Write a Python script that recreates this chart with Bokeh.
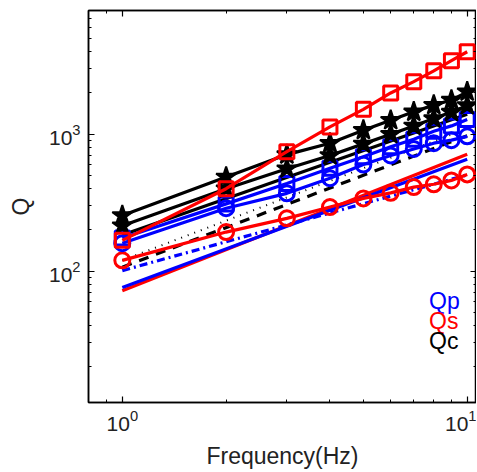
import numpy as np
from bokeh.plotting import figure
from bokeh.models import Range1d, Label, FixedTicker, LogTickFormatter, LogAxis
from bokeh.embed import file_html
from bokeh.resources import INLINE

freq = [1, 2, 3, 4, 5, 6, 7, 8, 9, 10]
qs_square = [168, 400, 745, 1130, 1520, 2000, 2420, 2900, 3440, 4000]
qs_circle = [120, 193, 243, 294, 340, 373, 411, 431, 460, 509]
qp_square = [175, 310, 437, 564, 685, 810, 920, 1050, 1150, 1280]
qp_circle = [160, 288, 370, 477, 600, 700, 780, 860, 905, 965]
qc_star_a = [255, 487, 710, 860, 1070, 1265, 1456, 1630, 1775, 2040]
qc_star_b = [215, 400, 560, 700, 850, 1000, 1150, 1300, 1450, 1620]

fit_freq = [1, 10]
qs_solid = [72, 714]
qp_solid = [76, 656]
qp_dashdot = [101, 505]
qc_solid = [184, 1400]
qc_dashed = [107, 975]
qc_dotted = [120, 1100]

x_major = [1, 10]
x_minor = [0.8, 0.9, 2, 3, 4, 5, 6, 7, 8, 9]
y_major = [100, 1000]
y_minor = [20, 30, 40, 50, 60, 70, 80, 90, 200, 300, 400, 500, 600, 700, 800, 900,
           2000, 3000, 4000, 5000, 6000, 7000, 8000]

legend_names = ["Qp", "Qs", "Qc"]
legend_colors = ["blue", "red", "black"]
legend_x = 7.75
legend_y = [61, 43.5, 31]

FONT = "Liberation Sans"

p = figure(frame_width=388, frame_height=392, x_axis_type="log", y_axis_type="log",
           x_range=Range1d(0.798, 10.64), y_range=Range1d(11, 8000),
           output_backend="svg", toolbar_location=None,
           min_border_left=88, min_border_right=0, min_border_top=10, min_border_bottom=10)
p.grid.visible = False
p.outline_line_color = "black"
p.outline_line_width = 1.5
p.background_fill_color = "white"

bottom_axis = p.below[0]
left_axis = p.left[0]
top_axis = LogAxis()
right_axis = LogAxis()
p.add_layout(top_axis, "above")
p.add_layout(right_axis, "right")

for ax in (bottom_axis, top_axis):
    ax.ticker = FixedTicker(ticks=x_major, minor_ticks=x_minor)
for ax in (left_axis, right_axis):
    ax.ticker = FixedTicker(ticks=y_major, minor_ticks=y_minor)

for ax in (bottom_axis, left_axis, top_axis, right_axis):
    ax.formatter = LogTickFormatter()
    ax.major_tick_in = 6
    ax.major_tick_out = 0
    ax.minor_tick_in = 3
    ax.minor_tick_out = 0
    ax.axis_line_width = 1.5
    ax.major_tick_line_width = 1.2
    ax.major_label_text_font = FONT
    ax.major_label_text_font_size = "21px"
    ax.major_label_text_color = "#222222"
    ax.axis_label_text_font = FONT
    ax.axis_label_text_font_size = "23px"
    ax.axis_label_text_font_style = "normal"
    ax.axis_label_text_color = "#222222"

for ax in (top_axis, right_axis):
    ax.major_label_text_font_size = "1px"
    ax.major_label_text_alpha = 0
    ax.major_label_standoff = 0

bottom_axis.axis_label = "Frequency(Hz)"
left_axis.axis_label = "Q"
bottom_axis.major_label_standoff = 7
left_axis.major_label_standoff = 8
bottom_axis.axis_label_standoff = 9
left_axis.axis_label_standoff = 12

lw = 3.2
p.line(fit_freq, qs_solid, color="red", line_width=lw)
p.line(fit_freq, qp_solid, color="blue", line_width=lw)
p.line(fit_freq, qp_dashdot, color="blue", line_width=lw, line_dash="8 4 2 4")
p.line(fit_freq, qc_dashed, color="black", line_width=lw, line_dash="10 8")
p.line(fit_freq, qc_dotted, color="black", line_width=2, line_dash="1 6")
p.line(fit_freq, qc_solid, color="black", line_width=lw)

p.line(freq, qs_circle, color="red", line_width=lw)
p.scatter(freq, qs_circle, marker="circle", size=15, fill_color=None, line_color="red", line_width=3)
p.line(freq, qp_circle, color="blue", line_width=lw)
p.scatter(freq, qp_circle, marker="circle", size=15, fill_color=None, line_color="blue", line_width=3)
p.line(freq, qp_square, color="blue", line_width=lw)
p.scatter(freq, qp_square, marker="square", size=14, fill_color=None, line_color="blue", line_width=3)
p.line(freq, qc_star_b, color="black", line_width=lw)
p.scatter(freq, qc_star_b, marker="star", size=21, fill_color="black", line_color="black", line_width=2)
p.line(freq, qc_star_a, color="black", line_width=lw)
p.scatter(freq, qc_star_a, marker="star", size=21, fill_color="black", line_color="black", line_width=2)
p.line(freq, qs_square, color="red", line_width=lw)
p.scatter(freq, qs_square, marker="square", size=14, fill_color=None, line_color="red", line_width=3)

for name, col, ly in zip(legend_names, legend_colors, legend_y):
    p.add_layout(Label(x=legend_x, y=ly, text=name, text_color=col, text_font=FONT,
                       text_font_size="23px", text_baseline="alphabetic"))

open("out.html", "w").write(file_html(p, INLINE))
